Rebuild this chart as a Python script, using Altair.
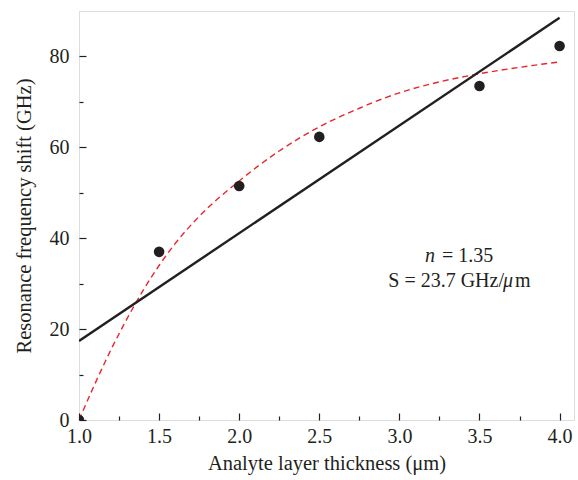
import altair as alt
import pandas as pd

# ---- data ----
thickness = [1.0, 1.5, 2.0, 2.5, 3.5, 4.0]
shift = [0.0, 37.0, 51.5, 62.3, 73.5, 82.3]

linear_x = [1.0, 4.0]
linear_y = [17.4, 88.5]

curve_x = [1.0, 1.1, 1.2, 1.3, 1.4, 1.5, 1.6, 1.75, 2.0, 2.25, 2.5, 2.75, 3.0, 3.25, 3.5, 3.75, 4.0]
curve_y = [0.0, 8.0, 15.5, 22.3, 28.5, 34.0, 38.8, 44.8, 52.6, 59.2, 64.5, 68.6, 72.0, 74.4, 76.2, 77.6, 78.8]

x_major = [1.0, 1.5, 2.0, 2.5, 3.0, 3.5, 4.0]
x_minor = [1.25, 1.75, 2.25, 2.75, 3.25, 3.75]
y_major = [0, 20, 40, 60, 80]
y_minor = [10, 30, 50, 70]

FONT = "Liberation Serif"
INK = "#231f20"
RED = "#e8262d"
W, H = 495, 409

pts = pd.DataFrame({"x": thickness, "y": shift})
lin = pd.DataFrame({"x": linear_x, "y": linear_y})
cur = pd.DataFrame({"x": curve_x, "y": curve_y})

xscale = alt.Scale(domain=[1.0, 4.09], nice=False, zero=False)
yscale = alt.Scale(domain=[0, 90], nice=False, zero=False)

common = dict(domain=False, grid=False, labelFont=FONT, labelFontSize=20, labelColor=INK,
              titleFont=FONT, titleFontSize=20.5, titleColor=INK, titleFontWeight="normal",
              tickColor=INK, tickWidth=1.2, labelFlush=False, labelOverlap=False)

ax_x_major = alt.Axis(orient="bottom", values=x_major, format=".1f", tickSize=7, offset=-7,
                      labelPadding=6, title="Analyte layer thickness (μm)", titlePadding=7, **common)
ax_y_major = alt.Axis(orient="left", values=y_major, format="d", tickSize=7, offset=-7,
                      labelPadding=10, title="Resonance frequency shift (GHz)", titlePadding=15, **common)
ax_x_minor = alt.Axis(orient="bottom", values=x_minor, tickSize=4, offset=-4, labels=False,
                      title=None, **common)
ax_y_minor = alt.Axis(orient="left", values=y_minor, tickSize=4, offset=-4, labels=False,
                      title=None, **common)

points = alt.Chart(pts).mark_circle(size=112, color=INK, opacity=1, clip=True).encode(
    x=alt.X("x:Q", scale=xscale, axis=ax_x_major),
    y=alt.Y("y:Q", scale=yscale, axis=ax_y_major),
)

linear = alt.Chart(lin).mark_line(color=INK, strokeWidth=2.4, clip=True).encode(
    x=alt.X("x:Q", scale=xscale, axis=ax_x_minor),
    y=alt.Y("y:Q", scale=yscale, axis=ax_y_minor),
)

curve = alt.Chart(cur).mark_line(color=RED, strokeWidth=1.4, strokeDash=[6, 4],
                                 interpolate="monotone", clip=True).encode(
    x=alt.X("x:Q", scale=xscale, axis=None),
    y=alt.Y("y:Q", scale=yscale, axis=None),
)

one = pd.DataFrame({"a": [0]})
tstyle = dict(font=FONT, fontSize=20, color=INK, baseline="alphabetic")
t_n = alt.Chart(one).mark_text(text="n", fontStyle="italic", align="left", **tstyle).encode(
    x=alt.value(346), y=alt.value(251))
t_n2 = alt.Chart(one).mark_text(text="= 1.35", align="left", **tstyle).encode(
    x=alt.value(363), y=alt.value(251))
t_s = alt.Chart(one).mark_text(text="S = 23.7 GHz/", align="right", **tstyle).encode(
    x=alt.value(425), y=alt.value(276))
t_mu = alt.Chart(one).mark_text(text="μ", fontStyle="italic", align="left", **tstyle).encode(
    x=alt.value(424), y=alt.value(276))
t_m = alt.Chart(one).mark_text(text="m", align="left", **tstyle).encode(
    x=alt.value(436), y=alt.value(276))

chart = alt.layer(curve, linear, points, t_n, t_n2, t_s, t_mu, t_m).resolve_axis(
    x="independent", y="independent"
).properties(
    width=W, height=H,
    autosize=alt.AutoSizeParams(type="none"),
    padding={"left": 79, "top": 11, "right": 4, "bottom": 60},
).configure_view(stroke=INK, strokeWidth=1.3).configure(background="white")

chart.save("out.html", embed_options={"renderer": "svg", "actions": False})
